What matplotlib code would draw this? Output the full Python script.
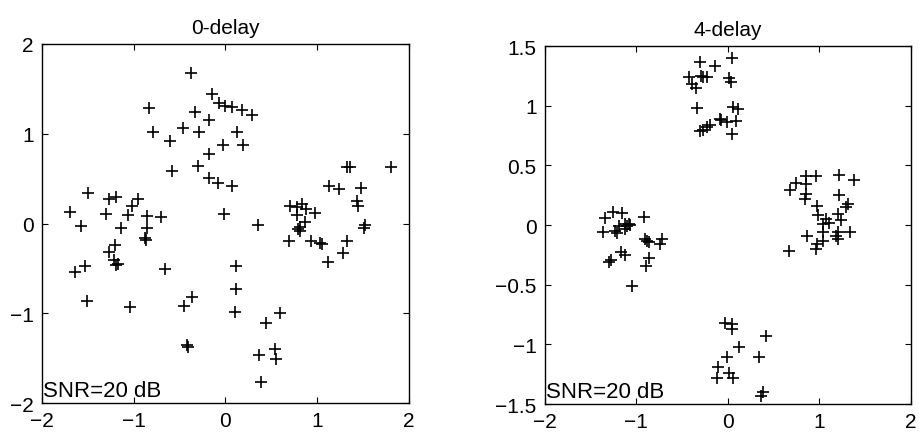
import matplotlib
matplotlib.use("Agg")
import matplotlib.pyplot as plt

plt.rcParams['font.family'] = ['Liberation Sans', 'DejaVu Sans']

# ---- data: 0-delay ----
x0 = [-0.38, -0.15, -0.07, -0.01, 0.07, -0.83, -0.33, -0.18, -0.79, -0.46, -0.29, -0.61,
      -0.03, -0.18, -0.30, -0.58, -0.18, -0.08, 0.07, -1.50, -1.27, -1.19, -0.95, -1.02,
      -1.70, -1.30, -1.06, -0.86, -0.70, -0.02, -1.57, -1.14, 0.18, 0.29, 0.13, 0.19,
      1.36, 1.33, 1.80, 1.13, 1.24, 1.48, 1.43, 1.44, 0.70, 0.83, 0.78, 0.88, 0.98,
      0.78, 0.87, 0.35, 1.52, 0.81, 0.79, 0.81, 1.51, 0.69, 0.93, 1.03, 1.05, 1.33,
      1.28, 1.12, 0.11, 0.12, 0.10, 0.59, 0.44, 0.54, 0.55, 0.36, 0.39,
      -0.86, -0.88, -0.87, -1.20, -1.27, -1.22, -1.17, -1.19, -1.53, -1.64, -0.66,
      -1.51, -1.04, -0.37, -0.45, -0.42, -0.41]
y0 = [1.68, 1.44, 1.34, 1.31, 1.30, 1.29, 1.24, 1.15, 1.02, 1.06, 1.02, 0.92,
      0.87, 0.77, 0.64, 0.58, 0.51, 0.45, 0.42, 0.34, 0.27, 0.29, 0.27, 0.19,
      0.13, 0.11, 0.09, 0.08, 0.07, 0.11, -0.03, -0.05, 1.27, 1.21, 1.02, 0.87,
      0.63, 0.63, 0.63, 0.42, 0.38, 0.40, 0.25, 0.20, 0.20, 0.22, 0.18, 0.16, 0.12,
      0.09, 0.02, -0.02, -0.02, -0.04, -0.06, -0.08, -0.05, -0.20, -0.20, -0.22, -0.23, -0.20,
      -0.33, -0.43, -0.47, -0.73, -0.99, -1.00, -1.11, -1.40, -1.51, -1.47, -1.77,
      -0.05, -0.16, -0.18, -0.24, -0.32, -0.41, -0.45, -0.46, -0.47, -0.54, -0.51,
      -0.86, -0.93, -0.82, -0.92, -1.35, -1.38]

# ---- data: 4-delay ----
x4 = [-0.31, -0.43, -0.29, -0.39, -0.35, -0.34, -0.31, -0.27, 0.04, -0.14, -0.27, -0.23,
      0.01, 0.03, 0.06, 0.11, -0.07, -0.09, -0.01, 0.09, -0.20, -0.23, 0.05,
      0.86, 0.96, 1.22, 1.38, 0.75, 0.86, 0.68, 0.86, 0.84, 1.22, 1.31, 1.29, 0.98,
      0.99, 1.07, 1.04, 1.21, 1.24, 1.11, 0.87, 1.04, 1.04, 1.20, 1.18, 1.20, 1.34,
      0.98, 0.96, 0.67,
      -0.03, 0.04, 0.04, 0.42, 0.12, -0.01, 0.34, -0.11, -0.12, 0.01, 0.06, 0.38, 0.36,
      -1.26, -1.34, -1.16, -0.92, -1.19, -1.12, -1.08, -1.37, -1.23, -1.21, -1.10, -1.07,
      -1.12, -1.30, -1.28, -1.17, -1.12, -0.91, -0.88, -0.86, -0.72, -0.74, -0.86, -0.90, -1.05]
y4 = [1.37, 1.24, 1.25, 1.18, 1.15, 0.98, 0.79, 0.80, 1.40, 1.33, 1.24, 1.24,
      1.23, 1.20, 0.99, 0.97, 0.88, 0.89, 0.86, 0.87, 0.84, 0.82, 0.76,
      0.41, 0.41, 0.42, 0.38, 0.35, 0.34, 0.29, 0.26, 0.22, 0.25, 0.18, 0.15, 0.16,
      0.08, 0.05, 0.01, 0.09, 0.04, 0.02, -0.09, -0.06, -0.13, -0.06, -0.09, -0.12, -0.06,
      -0.16, -0.20, -0.22,
      -0.82, -0.83, -0.87, -0.93, -1.02, -1.11, -1.11, -1.19, -1.28, -1.24, -1.28, -1.40, -1.43,
      0.11, 0.06, 0.10, 0.07, -0.01, 0.01, 0.01, -0.06, -0.05, -0.07, -0.01, 0.00,
      -0.03, -0.31, -0.29, -0.23, -0.25, -0.12, -0.13, -0.14, -0.12, -0.16, -0.28, -0.34, -0.51]

titles = ["0-delay", "4-delay"]
snr_text = "SNR=20 dB"

fig = plt.figure(figsize=(9.19, 4.39), dpi=100)
ax1 = fig.add_axes([0.0457, 0.0797, 0.3993, 0.8178])
ax2 = fig.add_axes([0.593, 0.0774, 0.398, 0.8155])

fs = 15
for ax, xs, ys, t in [(ax1, x0, y0, titles[0]), (ax2, x4, y4, titles[1])]:
    ax.plot(xs, ys, linestyle='none', marker='+', markersize=9,
            markeredgewidth=1.2, color='black')
    ax.set_title(t, fontsize=fs, pad=8)
    ax.text(0.004, 0.006, snr_text, transform=ax.transAxes, fontsize=16,
            ha='left', va='bottom')
    ax.tick_params(direction='in', top=True, right=True, length=4,
                   labelsize=fs, pad=6, width=0.8)
    for s in ax.spines.values():
        s.set_linewidth(1.0)

ax1.set_xlim(-2, 2)
ax1.set_ylim(-2, 2)
ax1.set_xticks([-2, -1, 0, 1, 2])
ax1.set_yticks([-2, -1, 0, 1, 2])

ax2.set_xlim(-2, 2)
ax2.set_ylim(-1.5, 1.5)
ax2.set_xticks([-2, -1, 0, 1, 2])
ax2.set_yticks([-1.5, -1, -0.5, 0, 0.5, 1, 1.5])
ax2.set_yticklabels(['−1.5', '−1', '−0.5', '0', '0.5', '1', '1.5'])

fig.savefig("out.png", dpi=100)
